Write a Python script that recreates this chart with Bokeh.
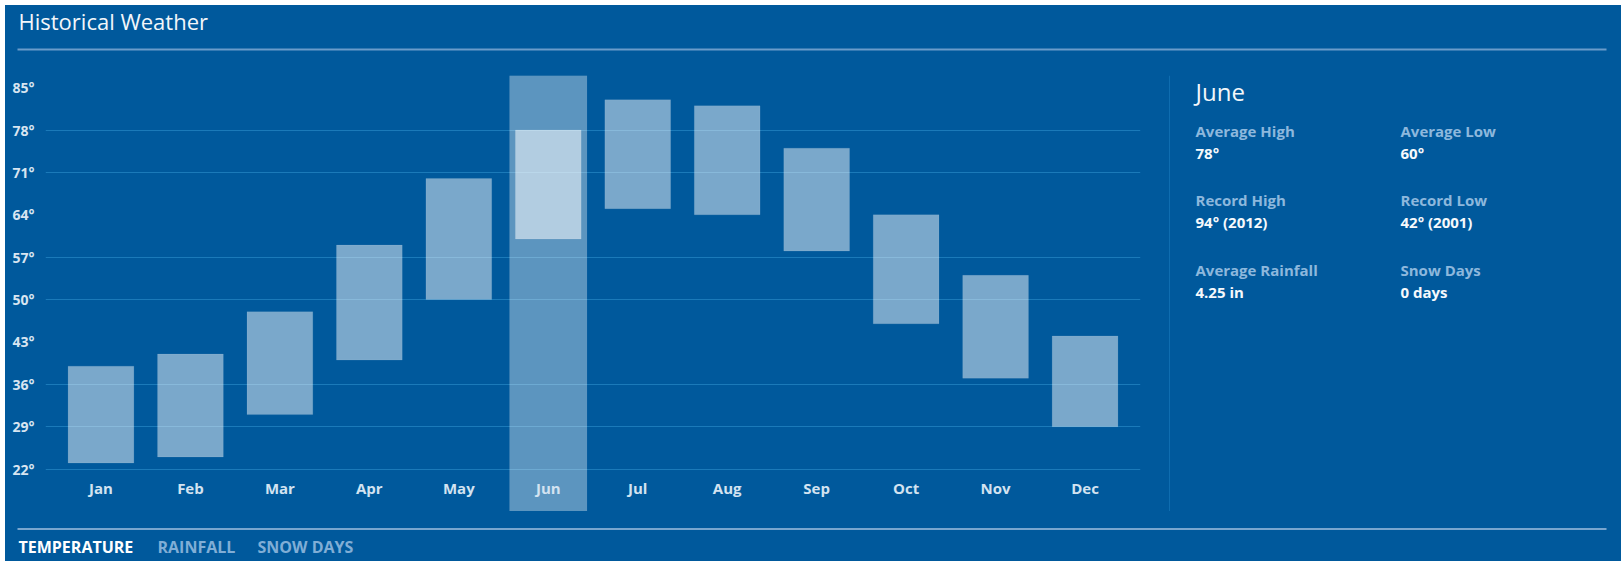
from bokeh.plotting import figure
from bokeh.layouts import column, row
from bokeh.models import (FactorRange, Range1d, FixedTicker, PrintfTickFormatter,
                          ColumnDataSource)
from bokeh.core.properties import value
from bokeh.embed import file_html
from bokeh.resources import INLINE

# ---------------- data ----------------
title_text = "Historical Weather"
months = ["Jan", "Feb", "Mar", "Apr", "May", "Jun",
          "Jul", "Aug", "Sep", "Oct", "Nov", "Dec"]
avg_high = [39, 41, 48, 59, 70, 78, 83, 82, 75, 64, 54, 44]
avg_low = [23, 24, 31, 40, 50, 60, 65, 64, 58, 46, 37, 29]
y_ticks = [22, 29, 36, 43, 50, 57, 64, 71, 78, 85]
grid_ticks = [22, 29, 36, 50, 57, 71, 78]
selected_month = "Jun"
selected_name = "June"
detail_labels = ["Average High", "Average Low",
                 "Record High", "Record Low",
                 "Average Rainfall", "Snow Days"]
detail_values = ["78°", "60°",
                 "94° (2012)", "42° (2001)",
                 "4.25 in", "0 days"]
tab_names = ["TEMPERATURE", "RAINFALL", "SNOW DAYS"]
active_tab = "TEMPERATURE"
Y_MIN, Y_MAX = 15, 87

# ---------------- style / layout (page pixels) ----------------
BG = "#00599C"
FONT = "Open Sans"
X0, Y0, X1, Y1 = 5, 5, 1621, 561        # blue card
CHART_TOP, CHART_BOTTOM = 75, 511
CHART_RIGHT_EDGE = 1155
FRAME_LEFT, FRAME_RIGHT = 45, 1140
MONTH_LABEL_Y = 18.8
SHIFT = 0.45  # baseline correction, fraction of font size


def blank(x0, x1, y0, y1):
    f = figure(width=x1 - x0, height=y1 - y0, output_backend="svg", toolbar_location=None,
               x_range=Range1d(x0, x1), y_range=Range1d(y1, y0),
               x_axis_location=None, y_axis_location=None,
               min_border_left=0, min_border_right=0, min_border_top=0, min_border_bottom=0)
    f.background_fill_color = None
    f.border_fill_color = None
    f.outline_line_color = None
    f.xgrid.visible = False
    f.ygrid.visible = False
    return f


def txt(f, x, y, t, size, color, style="normal"):
    f.text(x=[x], y=[y - SHIFT * size], text=[t], text_font=value(FONT),
           text_font_size=f"{size}px", text_font_style=style, text_color=color,
           text_align="left", text_baseline="alphabetic")


# ---------------- header ----------------
header = blank(X0, X1, Y0, CHART_TOP)
txt(header, 18, 30, title_text, 22, "#F2F6FA")
header.segment(x0=[17], x1=[1606], y0=[49], y1=[49], line_width=2, line_color="#6A9CCA")

# ---------------- chart ----------------
chart_w = CHART_RIGHT_EDGE - X0
p = figure(width=chart_w, height=CHART_BOTTOM - CHART_TOP,
           output_backend="svg", toolbar_location=None,
           x_range=FactorRange(*months, range_padding=0.12, range_padding_units="absolute"),
           y_range=Range1d(Y_MIN, Y_MAX),
           min_border_left=FRAME_LEFT - X0, min_border_right=CHART_RIGHT_EDGE - FRAME_RIGHT,
           min_border_top=0, min_border_bottom=0)
p.background_fill_color = None
p.border_fill_color = None
p.outline_line_color = None
p.xaxis.visible = False
p.xgrid.visible = False
p.ygrid.ticker = FixedTicker(ticks=grid_ticks)
p.ygrid.grid_line_color = "#1B7AB9"
p.ygrid.grid_line_width = 1

ax = p.yaxis[0]
ax.ticker = FixedTicker(ticks=y_ticks)
ax.formatter = PrintfTickFormatter(format="%d°")
ax.axis_line_color = None
ax.major_tick_line_color = None
ax.minor_tick_line_color = None
ax.major_label_standoff = 5
ax.major_label_text_font = FONT
ax.major_label_text_font_style = "bold"
ax.major_label_text_font_size = "14px"
ax.major_label_text_color = "#D8E5F1"

# highlight column for the selected month
p.vbar(x=[selected_month], top=[Y_MAX], bottom=[Y_MIN], width=0.865,
       fill_color="white", fill_alpha=0.36, line_color="white", line_alpha=0.06)

src = ColumnDataSource(dict(month=months, hi=avg_high, lo=avg_low,
                            alpha=[0.53 if m == selected_month else 0.48 for m in months]))
p.vbar(x="month", top="hi", bottom="lo", width=0.735, source=src,
       fill_color="white", fill_alpha="alpha", line_color="white", line_alpha=0.08)

p.text(x=months, y=[MONTH_LABEL_Y] * len(months), text=months,
       text_font=value(FONT), text_font_style="bold", text_font_size="15px",
       text_color="#D3E3F1", text_align="center", text_baseline="alphabetic")

# ---------------- detail panel ----------------
panel = blank(CHART_RIGHT_EDGE, X1, CHART_TOP, CHART_BOTTOM)
panel.segment(x0=[1169], x1=[1169], y0=[75], y1=[511], line_width=1, line_color="#0F6DB0")
txt(panel, 1195, 101.5, selected_name, 24, "#F2F6FA")
col_x = [1195, 1400]
row_y = [137, 206.5, 276.5]
for i, (l, v) in enumerate(zip(detail_labels, detail_values)):
    x = col_x[i % 2]
    y = row_y[i // 2]
    txt(panel, x, y, l, 15, "#8DB8DD", "bold")
    txt(panel, x, y + 22, v, 15, "#F6F9FC", "bold")

# ---------------- footer ----------------
footer = blank(X0, X1, CHART_BOTTOM, Y1)
footer.segment(x0=[17], x1=[1606], y0=[528.5], y1=[528.5], line_width=2, line_color="#78A6CF")
tab_x = [18, 157, 257]
for t, x in zip(tab_names, tab_x):
    txt(footer, x, 554, t, 16, "#FFFFFF" if t == active_tab else "#80AED6", "bold")

layout = column(header, row(p, panel, spacing=0), footer, spacing=0)
layout.margin = (Y0, 0, 0, X0)
layout.styles = {"background-color": BG}

open("out.html", "w").write(file_html(layout, INLINE))
